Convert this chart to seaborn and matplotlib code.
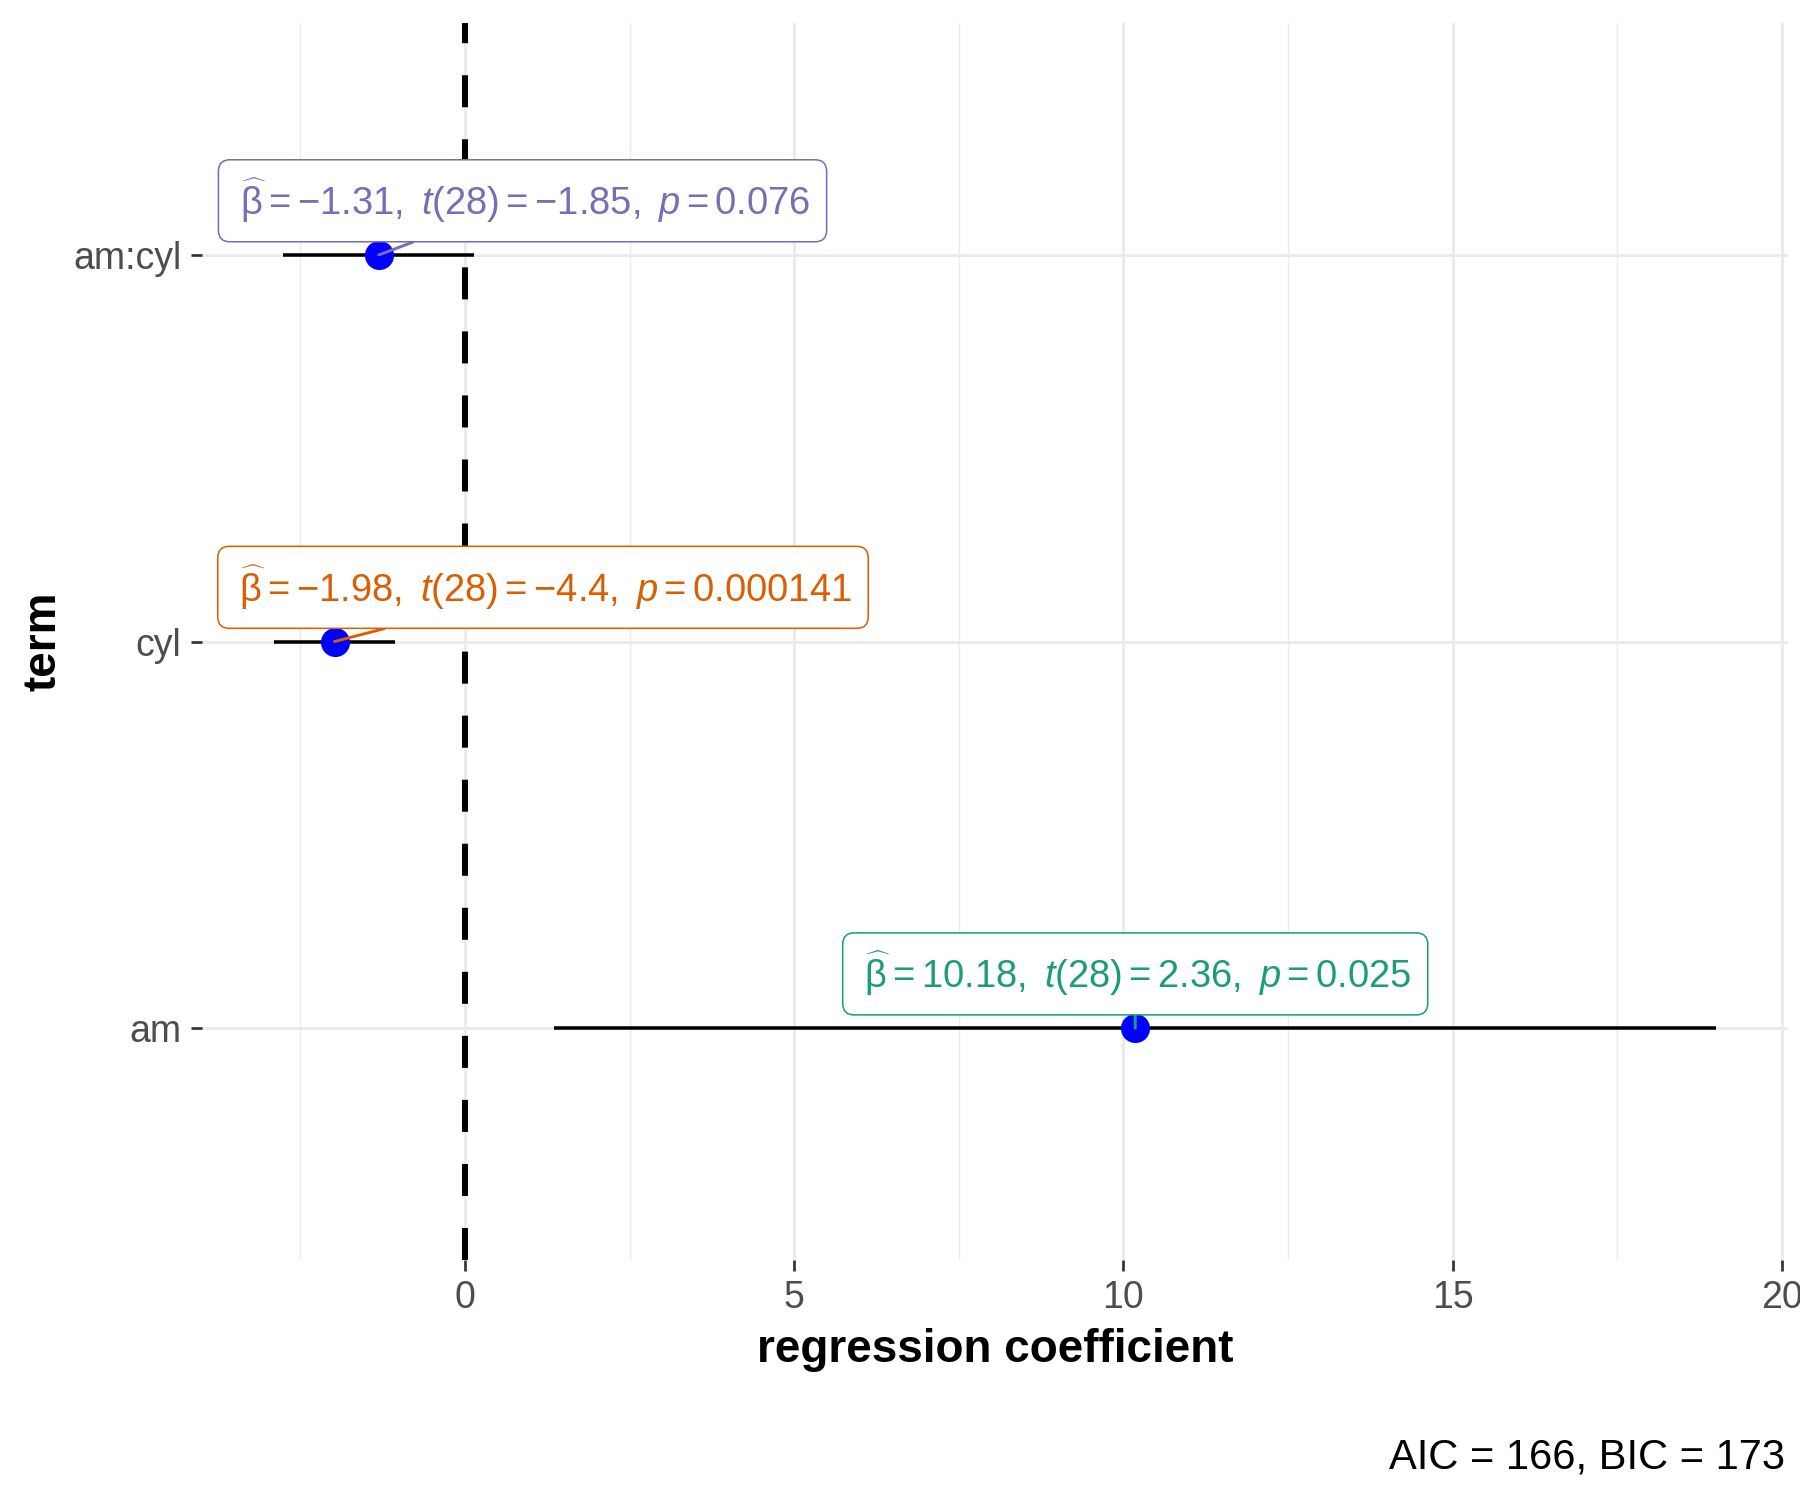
import numpy as np
import matplotlib
matplotlib.use("Agg")
import matplotlib.pyplot as plt
from matplotlib.ticker import MultipleLocator
import seaborn as sns
import pandas as pd

# ---- data ----
terms = ["am", "cyl", "am:cyl"]
estimate = [10.18, -1.98, -1.31]
conf_low = [1.35, -2.90, -2.76]
conf_high = [19.00, -1.06, 0.14]
t_df = [28, 28, 28]
t_value = ["2.36", "-4.4", "-1.85"]
p_value = ["0.025", "0.000141", "0.076"]
label_colors = ["#1B9E77", "#D95F02", "#7570B3"]
caption = "AIC = 166, BIC = 173"

# label offsets (points) relative to each estimate
label_dx = [0, 100, 69]
label_dy = [26, 26, 26]

df = pd.DataFrame({"term": terms, "estimate": estimate,
                   "conf_low": conf_low, "conf_high": conf_high})
df["pos"] = np.arange(len(terms))

sns.set_theme(style="white")
plt.rcParams["font.family"] = ["Liberation Sans", "DejaVu Sans"]
plt.rcParams["mathtext.fontset"] = "custom"
plt.rcParams["mathtext.rm"] = "Liberation Sans"
plt.rcParams["mathtext.it"] = "Liberation Sans:italic"
plt.rcParams["mathtext.bf"] = "Liberation Sans:bold"

fig = plt.figure(figsize=(12, 10), dpi=150)
ax = fig.add_axes([202 / 1800, 1 - 1260 / 1500, 1586 / 1800, 1237 / 1500])

# axis limits with ggplot-like expansion
xmin, xmax = min(conf_low), max(conf_high)
span = xmax - xmin
ax.set_xlim(xmin - 0.05 * span, xmax + 0.05 * span)
ax.set_ylim(-0.6, len(terms) - 1 + 0.6)

# grid
ax.xaxis.set_major_locator(MultipleLocator(5))
ax.xaxis.set_minor_locator(MultipleLocator(2.5))
ax.set_yticks(df["pos"])
ax.set_yticklabels(terms)
ax.grid(which="major", axis="both", color="#EBEBEB", lw=1.4, zorder=0)
ax.grid(which="minor", axis="x", color="#EBEBEB", lw=0.7, zorder=0)
ax.set_axisbelow(True)
for s in ax.spines.values():
    s.set_visible(False)

# zero line
ax.axvline(0, color="black", lw=2.9, ls=(0, (5.3, 5.3)), zorder=1.5)

# error bars
ax.hlines(df["pos"], df["conf_low"], df["conf_high"], color="black", lw=1.7, zorder=2)

# points
sns.scatterplot(data=df, x="estimate", y="pos", color="blue", s=195,
                edgecolor="blue", linewidth=0, ax=ax, zorder=3, legend=False)

# labels
for i in range(len(terms)):
    lab = (r"$\,\widehat{\mathrm{\beta}} = %s,\ \mathit{t}(%d) = %s,\ \mathit{p} = %s\,$"
           % (f"{estimate[i]:.2f}", t_df[i], t_value[i], p_value[i]))
    ax.annotate(lab, xy=(estimate[i], df["pos"][i]),
                xytext=(label_dx[i], label_dy[i]), textcoords="offset points",
                ha="center", va="center", fontsize=18.3, color=label_colors[i],
                bbox=dict(boxstyle="round,pad=0.43,rounding_size=0.3",
                          fc="white", ec=label_colors[i], lw=0.75),
                arrowprops=dict(arrowstyle="-", color=label_colors[i], lw=1.4,
                                shrinkA=0, shrinkB=0),
                zorder=4)

ax.tick_params(axis="both", which="major", length=5.3, width=1.3,
               color="#333333", pad=4.5, labelsize=18, labelcolor="#4D4D4D",
               bottom=True, left=True)
ax.tick_params(axis="x", which="minor", length=0)

ax.set_xlabel("regression coefficient", fontsize=22, fontweight="bold", color="black")
ax.set_ylabel("term", fontsize=22, fontweight="bold", color="black")
ax.xaxis.label.set_va("center")
ax.xaxis.set_label_coords(0.5, -(1350 - 1260) / 1237)
ax.yaxis.label.set_va("center")
ax.yaxis.set_label_coords((44 - 202) / 1586, 0.5)

fig.text(1785 / 1800, 1 - 1457 / 1500, caption, ha="right", va="center",
         fontsize=20, color="black")

fig.savefig("out.png", dpi=150, facecolor="white")
